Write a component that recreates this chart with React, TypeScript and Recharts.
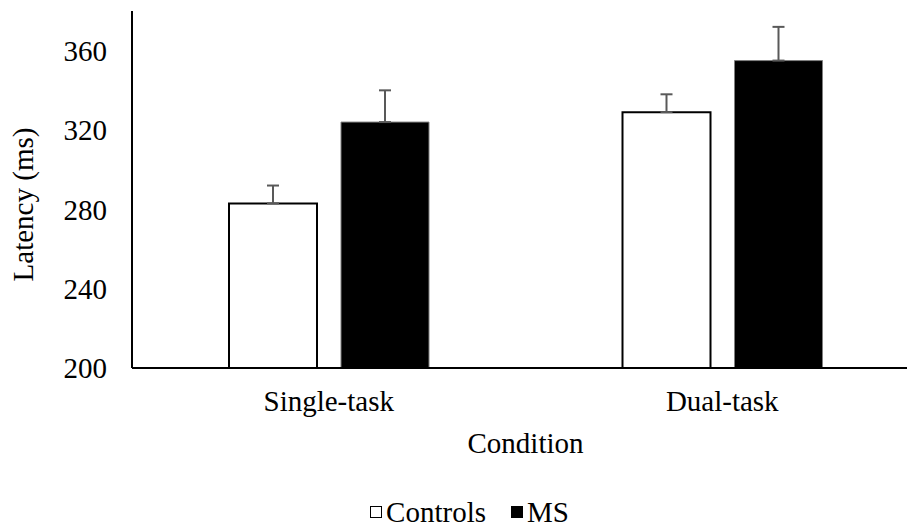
import React from "react";
import {
  BarChart,
  Bar,
  XAxis,
  YAxis,
  ErrorBar,
  Legend,
} from "recharts";

const CONDITIONS = ["Single-task", "Dual-task"];
const CONTROLS_MEAN = [283, 329];
const CONTROLS_SE = [9, 9];
const MS_MEAN = [324, 355];
const MS_SE = [16, 17];
const Y_TICKS = [200, 240, 280, 320, 360];

const FONT = "'Liberation Serif', 'Times New Roman', serif";
const TEXT_STYLE = { fontFamily: FONT, fontSize: 29 };

const SERIES = [
  { key: "controls", err: "controlsErr", label: "Controls", fill: "#ffffff", stroke: "#000000" },
  { key: "ms", err: "msErr", label: "MS", fill: "#000000", stroke: "#7f7f7f" },
] as const;

// only the upper whisker is shown, so the lower error is 0
const rows = CONDITIONS.map((name, i) => ({
  name,
  controls: CONTROLS_MEAN[i],
  controlsErr: [0, CONTROLS_SE[i]],
  ms: MS_MEAN[i],
  msErr: [0, MS_SE[i]],
}));

function YTitle({ viewBox }: any) {
  const cx = 23;
  const cy = viewBox.y + viewBox.height / 2 + 15;
  return (
    <text
      x={cx}
      y={cy}
      transform={`rotate(-90 ${cx} ${cy})`}
      textAnchor="middle"
      dominantBaseline="central"
      fill="#000"
      style={TEXT_STYLE}
    >
      Latency (ms)
    </text>
  );
}

function XTitle({ viewBox }: any) {
  return (
    <text
      x={viewBox.x + viewBox.width / 2}
      y={viewBox.y + 85}
      textAnchor="middle"
      fill="#000"
      style={TEXT_STYLE}
    >
      Condition
    </text>
  );
}

function LegendContent() {
  return (
    <div
      style={{
        display: "flex",
        justifyContent: "center",
        alignItems: "center",
        gap: 25,
        paddingLeft: 20,
        paddingTop: 15,
        lineHeight: "26px",
        color: "#000",
        ...TEXT_STYLE,
      }}
    >
      {SERIES.map((s) => (
        <span key={s.key} style={{ display: "flex", alignItems: "center", gap: 4 }}>
          <span
            style={{
              display: "inline-block",
              width: 10,
              height: 10,
              background: s.fill,
              border: "1.5px solid #000",
            }}
          />
          {s.label}
        </span>
      ))}
    </div>
  );
}

export default function App() {
  return (
    <div
      style={{
        position: "fixed",
        left: 0,
        top: 0,
        width: 907,
        height: 529,
        overflow: "hidden",
        background: "#fff",
      }}
    >
      <BarChart
        width={925}
        height={529}
        data={rows}
        margin={{ top: 11, right: 6, bottom: 0, left: 0 }}
        barSize={88}
        barGap={24}
      >
        <XAxis
          dataKey="name"
          height={116}
          tickLine={false}
          tickSize={0}
          tickMargin={22}
          axisLine={{ stroke: "#000", strokeWidth: 2 }}
          tick={{ fill: "#000", ...TEXT_STYLE }}
          label={<XTitle />}
        />
        <YAxis
          width={132}
          domain={[200, 380]}
          ticks={Y_TICKS}
          interval={0}
          allowDataOverflow
          tickLine={false}
          tickSize={0}
          tickMargin={25}
          axisLine={{ stroke: "#000", strokeWidth: 2 }}
          tick={{ fill: "#000", ...TEXT_STYLE }}
          label={<YTitle />}
        />
        <Legend verticalAlign="bottom" height={45} content={<LegendContent />} />
        {SERIES.map((s) => (
          <Bar
            key={s.key}
            dataKey={s.key}
            name={s.label}
            fill={s.fill}
            stroke={s.stroke}
            strokeWidth={s.key === "controls" ? 2 : 1}
            isAnimationActive={false}
          >
            <ErrorBar
              dataKey={s.err}
              width={6}
              stroke="#595959"
              strokeWidth={2}
              direction="y"
            />
          </Bar>
        ))}
      </BarChart>
    </div>
  );
}
